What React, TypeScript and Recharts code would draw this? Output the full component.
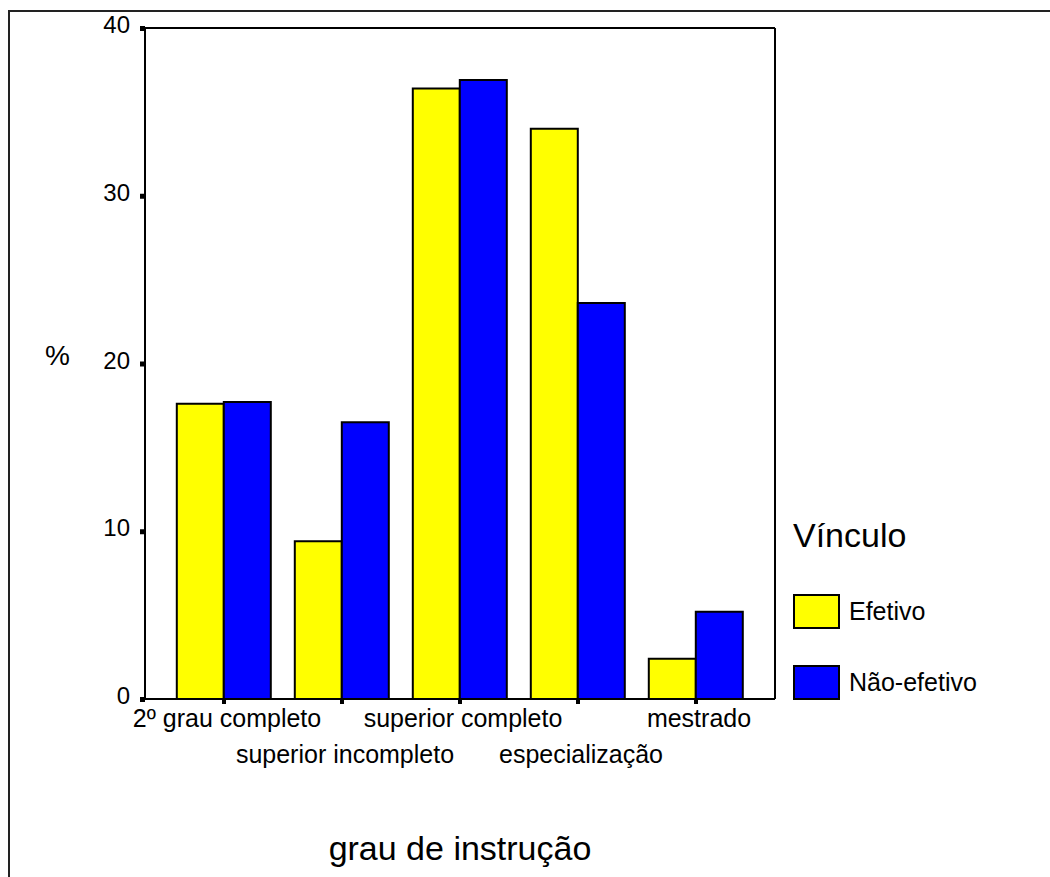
import React from 'react';
import { BarChart, Bar, XAxis, YAxis, Legend, CartesianGrid } from 'recharts';

const categories = ['2º grau completo', 'superior incompleto', 'superior completo', 'especialização', 'mestrado'];
const efetivo = [17.6, 9.4, 36.4, 34.0, 2.4];
const naoEfetivo = [17.7, 16.5, 36.9, 23.6, 5.2];
const yTicks = [0, 10, 20, 30, 40];
const seriesNames = ['Efetivo', 'Não-efetivo'];
const seriesColors = ['#FFFF00', '#0000FF'];

const data = categories.map((name, i) => ({ name, efetivo: efetivo[i], naoEfetivo: naoEfetivo[i] }));

const FONT = '"Liberation Sans", Arial, sans-serif';

const XTick = (props: any) => {
  const { x, y, payload, index } = props;
  const dy = index % 2 === 0 ? 28 : 64;
  return (
    <g>
      <rect x={x - 2} y={y} width={4} height={5} fill="#000" />
      <text x={x + 3} y={y + dy} textAnchor="middle" fontSize={25} fontFamily={FONT} fill="#000">
        {payload.value}
      </text>
    </g>
  );
};

const YTick = (props: any) => {
  const { x, y, payload } = props;
  return (
    <g>
      <rect x={x - 5} y={y - 2} width={5} height={5} fill="#000" />
      <text x={x - 15} y={y + 5} textAnchor="end" fontSize={24} fontFamily={FONT} fill="#000">
        {payload.value}
      </text>
    </g>
  );
};

const LegendContent = () => (
  <div style={{ fontFamily: FONT, color: '#000' }}>
    <div style={{ fontSize: 34, lineHeight: '40px', marginBottom: 39 }}>Vínculo</div>
    {seriesNames.map((n, i) => (
      <div key={n} style={{ display: 'flex', alignItems: 'center', height: 34, marginBottom: 37 }}>
        <div style={{ width: 43, height: 31, background: seriesColors[i], border: '2px solid #000', marginRight: 9 }} />
        <span style={{ fontSize: 25 }}>{n}</span>
      </div>
    ))}
  </div>
);

export default function App() {
  return (
    <div style={{ position: 'absolute', left: 0, top: 0, width: 1050, height: 877, overflow: 'hidden', background: '#fff' }}>
      <div style={{ position: 'absolute', left: 8, top: 10, width: 1200, height: 1000, borderLeft: '2px solid #222', borderTop: '2px solid #222' }} />
      <div style={{ position: 'absolute', left: 0, top: 0 }}>
        <BarChart
          width={1050}
          height={877}
          data={data}
          margin={{ top: 28, right: 275, bottom: 1, left: 85 }}
          barCategoryGap="10%"
          barGap={0}
        >
          <CartesianGrid
            stroke="#000"
            strokeWidth={2}
            fill="none"
            horizontalCoordinatesGenerator={(p: any) => [p.offset.top]}
            verticalCoordinatesGenerator={(p: any) => [p.offset.left + p.offset.width]}
            syncWithTicks={false}
          />
          <XAxis
            dataKey="name"
            interval={0}
            padding={{ left: 20, right: 20 }}
            height={177}
            tickSize={0}
            tickMargin={0}
            axisLine={{ stroke: '#000', strokeWidth: 2 }}
            tickLine={false}
            tick={<XTick />}
            label={{ value: 'grau de instrução', position: 'insideBottom', offset: 16, fontSize: 34, fontFamily: FONT, fill: '#000' }}
          />
          <YAxis
            domain={[0, 40]}
            ticks={yTicks}
            width={60}
            tickSize={0}
            tickMargin={0}
            axisLine={{ stroke: '#000', strokeWidth: 2 }}
            tickLine={false}
            tick={<YTick />}
            label={{ value: '%', position: 'left', offset: 15, fontSize: 28, fontFamily: FONT, fill: '#000', dy: -8 }}
          />
          <Legend
            layout="horizontal"
            verticalAlign="middle"
            align="center"
            content={<LegendContent />}
            wrapperStyle={{ position: 'absolute', left: 793, top: 515, width: 250 }}
          />
          <Bar dataKey="efetivo" name={seriesNames[0]} fill={seriesColors[0]} stroke="#000" strokeWidth={2} isAnimationActive={false} />
          <Bar dataKey="naoEfetivo" name={seriesNames[1]} fill={seriesColors[1]} stroke="#000" strokeWidth={2} isAnimationActive={false} />
        </BarChart>
      </div>
    </div>
  );
}
